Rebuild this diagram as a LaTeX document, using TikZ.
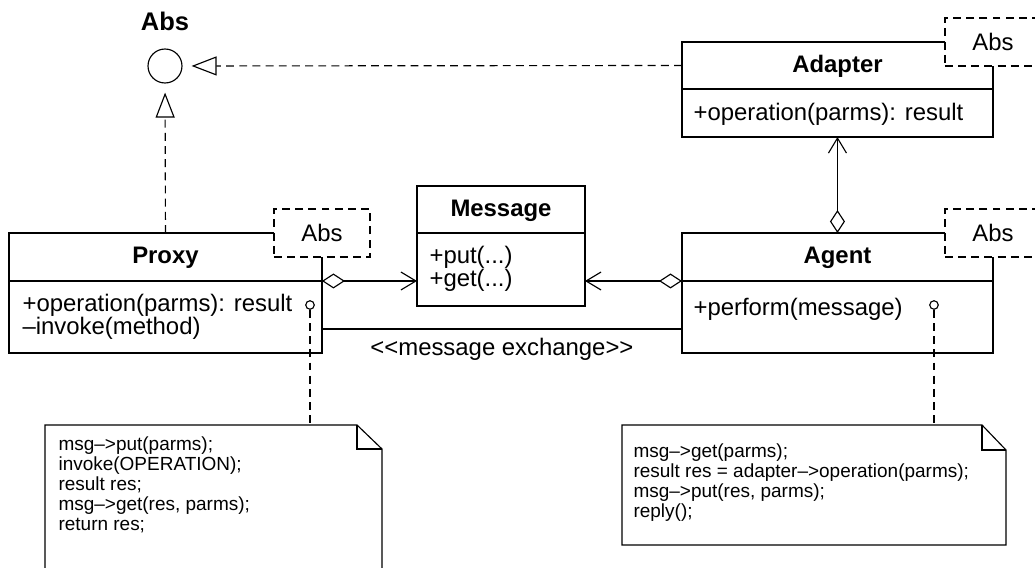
\documentclass[tikz,border=0pt]{standalone}
\usepackage{fontspec}
\setmainfont{Liberation Sans}
\usetikzlibrary{arrows.meta,positioning}
\newcommand{\opsfont}{\fontsize{13.6}{12.9}\selectfont\lineskiplimit=-20pt\lineskip=0pt}
\newcommand{\headfont}{\bfseries\fontsize{13.6}{16}\selectfont}
\newcommand{\notefont}{\fontsize{10.8}{11.4}\selectfont\lineskiplimit=-20pt\lineskip=0pt}

\begin{document}
\begin{tikzpicture}[x=0.02cm,y=-0.02cm,line width=0.65pt,
  clshead/.style={draw,inner sep=0pt,outer sep=0pt,anchor=north west,text height=0.77em,text depth=0.01em,font=\headfont},
  clsbody/.style={draw,inner sep=0pt,outer sep=0pt},
  ops/.style={inner sep=0pt,align=left,font=\opsfont},
  tag/.style={draw,dash pattern=on 4.5pt off 3pt,fill=white,minimum width=1.92cm,minimum height=0.96cm,font=\opsfont},
  port/.style={circle,draw,fill=white,inner sep=0pt,minimum size=0.17cm},
  realize/.style={dash pattern=on 4.5pt off 3pt,-{Triangle[open,length=0.5cm,width=0.38cm]},shorten >=0.18cm},
  aggr/.style={{Diamond[open,length=0.46cm,width=0.3cm]}-{Straight Barb[length=0.3cm,width=0.36cm]}},
  pin/.style={dash pattern=on 4.5pt off 3pt},
  note/.style={inner sep=0pt,align=left,anchor=north west,font=\notefont}]
  \useasboundingbox (0,0) rectangle (1035,568);

  \node[circle,draw,minimum size=0.68cm,inner sep=0pt] (abs) at (165,66) {};
  \node[above=0.34cm of abs,inner sep=0pt,font=\bfseries\fontsize{14.5}{17}\selectfont] (abslabel) {Abs};

  \node[clshead,minimum width=6.22cm,minimum height=0.94cm] (adapter) at (682,42) {Adapter};
  \node[clsbody,minimum width=6.22cm,minimum height=0.96cm,below=0pt of adapter] (adapterbody) {};
  \node[ops,below right=0.28cm and 0.22cm of adapterbody.north west] (adapterops) {+operation(parms): result};
  \node[tag] (adaptertag) at (adapter.north east) {Abs};

  \node[clshead,minimum width=6.26cm,minimum height=0.96cm] (proxy) at (9,233) {Proxy};
  \node[clsbody,minimum width=6.26cm,minimum height=1.44cm,below=0pt of proxy] (proxybody) {};
  \node[ops,below right=0.26cm and 0.26cm of proxybody.north west] (proxyops) {+operation(parms): result\\–invoke(method)};
  \node[tag] (proxytag) at (proxy.north east) {Abs};

  \node[clshead,minimum width=3.36cm,minimum height=0.94cm] (message) at (417,186) {Message};
  \node[clsbody,minimum width=3.36cm,minimum height=1.46cm,below=0pt of message] (msgbody) {};
  \node[ops,below right=0.26cm and 0.24cm of msgbody.north west] (msgops) {+put(...)\\+get(...)};

  \node[clshead,minimum width=6.22cm,minimum height=0.96cm] (agent) at (682,233) {Agent};
  \node[clsbody,minimum width=6.22cm,minimum height=1.44cm,below=0pt of agent] (agentbody) {};
  \node[ops,below right=0.34cm and 0.22cm of agentbody.north west] (agentops) {+perform(message)};
  \node[tag] (agenttag) at (agent.north east) {Abs};

  \node[port] (proxyport) at (310,305) {};
  \node[port] (agentport) at (934,305) {};

  \draw[realize] (adapter.west) -- (abs);
  \draw[realize] (proxy.north) -- (abs);
  \draw[aggr] (proxy.south east) -- (msgbody.west |- proxy.south east);
  \draw[aggr] (agent.south west) -- (msgbody.east |- agent.south west);
  \draw[aggr] (agent.north) -- (adapterbody.south);
  \draw ([yshift=-0.24cm]proxybody.east) -- ([yshift=-0.24cm]agentbody.west)
    node[midway,below=0.18cm,inner sep=0pt,font=\opsfont] (exchange) {{<}{<}message exchange{>}{>}};

  \coordinate (proxypin) at (310,425);
  \coordinate (agentpin) at (934,425);
  \draw[pin] (proxyport) -- (proxypin);
  \draw[pin] (agentport) -- (agentpin);

  \draw (45,425) -- (357,425) -- (382,449) -- (382,590) -- (45,590) -- cycle;
  \draw (357,425) |- (382,449);
  \node[note] (proxynote) at (58,436) {msg–>put(parms);\\invoke(OPERATION);\\result res;\\msg–>get(res, parms);\\return res;};

  \draw (622,425) -- (982,425) -- (1006,450) -- (1006,545) -- (622,545) -- cycle;
  \draw (982,425) |- (1006,450);
  \node[note] (agentnote) at (633,443) {msg–>get(parms);\\result res = adapter–>operation(parms);\\msg–>put(res, parms);\\reply();};
\end{tikzpicture}
\end{document}
